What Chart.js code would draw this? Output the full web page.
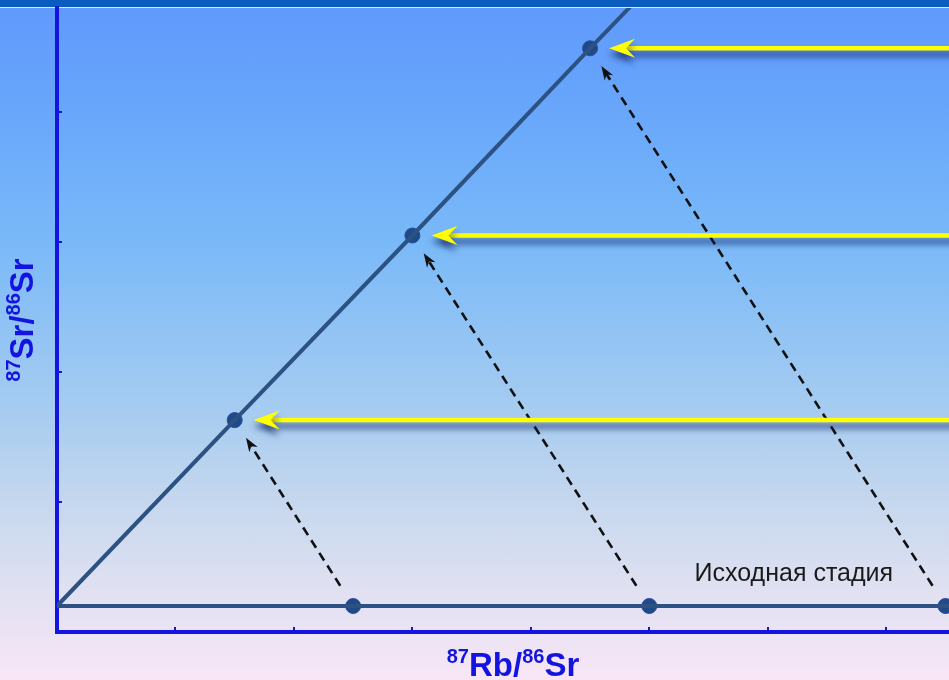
<!DOCTYPE html>
<html lang="ru">
<head>
<meta charset="UTF-8" />
<title>Rb-Sr изохрона</title>
<style>
  html, body {
    margin: 0;
    padding: 0;
  }
  body {
    width: 949px;
    height: 680px;
    overflow: hidden;
    background: linear-gradient(to bottom,
      #0b5cbf 0px, #0b5cbf 7px,
      #dce8fb 7px, #dce8fb 8px,
      #609afc 8px, #67a5fb 100px, #79b9f8 240px,
      #a9cdf0 420px, #c5d7ee 500px, #dde0f1 580px, #f8e6f6 680px);
  }
  #chart-container {
    position: relative;
    width: 949px;
    height: 680px;
  }
  canvas {
    display: block;
  }
</style>
<script src="https://cdn.jsdelivr.net/npm/chart.js"></script>
</head>
<body>
<div id="chart-container">
  <canvas id="isochronChart" width="949" height="680"></canvas>
</div>

<script>
  // values (87Rb/86Sr on x, 87Sr/86Sr on y)
  const initialRb = [2.5, 5.0, 7.5];
  const initialSr = [0.2, 0.2, 0.2];
  const agedRb = [1.5, 3.0, 4.5];
  const agedSr = [1.63, 3.05, 4.49];
  const isochronRb = [0, 1.5, 3.0, 4.5, 4.85];
  const isochronSr = [0.2, 1.63, 3.05, 4.49, 4.82];
  const baselineRb = [0, 7.53];
  const baselineSr = [0.2, 0.2];
  const xTicks = [1, 2, 3, 4, 5, 6, 7];
  const yTicks = [1, 2, 3, 4];

  const stageLabel = "Исходная стадия";
  const xTitle = [["87", true], ["Rb/", false], ["86", true], ["Sr", false]];
  const yTitle = [["87", true], ["Sr/", false], ["86", true], ["Sr", false]];

  const axisBlue = "#1414e0";
  const lineBlue = "#2b5282";
  const dotBlue = "#1f4a86";

  function toPoints(xs, ys) {
    return xs.map((v, i) => ({ x: v, y: ys[i] }));
  }

  function drawSupText(ctx, parts, cx, cy, size, supSize) {
    const big = "bold " + size + "px 'Liberation Sans', Arial, sans-serif";
    const small = "bold " + supSize + "px 'Liberation Sans', Arial, sans-serif";
    let total = 0;
    parts.forEach(([t, sup]) => {
      ctx.font = sup ? small : big;
      total += ctx.measureText(t).width;
    });
    let x = cx - total / 2;
    ctx.textBaseline = "alphabetic";
    ctx.textAlign = "left";
    parts.forEach(([t, sup]) => {
      ctx.font = sup ? small : big;
      ctx.fillText(t, x, sup ? cy - size * 0.4 : cy);
      x += ctx.measureText(t).width;
    });
  }

  const overlay = {
    id: "overlay",
    afterDatasetsDraw(chart) {
      const { ctx, chartArea, scales } = chart;
      const xs = scales.x, ys = scales.y;
      ctx.save();

      // small inward tick marks
      ctx.strokeStyle = axisBlue;
      ctx.lineWidth = 2;
      xTicks.forEach((v) => {
        const px = Math.round(xs.getPixelForValue(v));
        ctx.beginPath();
        ctx.moveTo(px, chartArea.bottom);
        ctx.lineTo(px, chartArea.bottom - 5);
        ctx.stroke();
      });
      yTicks.forEach((v) => {
        const py = Math.round(ys.getPixelForValue(v));
        ctx.beginPath();
        ctx.moveTo(chartArea.left, py);
        ctx.lineTo(chartArea.left + 5, py);
        ctx.stroke();
      });

      // dashed arrows: initial sample -> sample on the isochron
      ctx.strokeStyle = "#111";
      ctx.fillStyle = "#111";
      initialRb.forEach((rb, i) => {
        const x0 = xs.getPixelForValue(rb), y0 = ys.getPixelForValue(initialSr[i]);
        const x1 = xs.getPixelForValue(agedRb[i]), y1 = ys.getPixelForValue(agedSr[i]);
        const len = Math.hypot(x1 - x0, y1 - y0);
        const ux = (x1 - x0) / len, uy = (y1 - y0) / len;
        const sx = x0 + ux * 24, sy = y0 + uy * 24;
        const tx = x1 - ux * 21, ty = y1 - uy * 21;
        ctx.lineWidth = 2.6;
        ctx.setLineDash([9, 6]);
        ctx.beginPath();
        ctx.moveTo(sx, sy);
        ctx.lineTo(tx - ux * 9, ty - uy * 9);
        ctx.stroke();
        ctx.setLineDash([]);
        const nx = -uy, ny = ux;
        ctx.beginPath();
        ctx.moveTo(tx, ty);
        ctx.lineTo(tx - ux * 14 + nx * 5, ty - uy * 14 + ny * 5);
        ctx.lineTo(tx - ux * 10, ty - uy * 10);
        ctx.lineTo(tx - ux * 14 - nx * 5, ty - uy * 14 - ny * 5);
        ctx.closePath();
        ctx.fill();
      });

      // yellow arrows coming in from the right
      ctx.fillStyle = "#ffff00";
      ctx.strokeStyle = "#ffff00";
      ctx.shadowColor = "rgba(15, 35, 100, 0.75)";
      ctx.shadowBlur = 6;
      ctx.shadowOffsetY = 6;
      agedRb.forEach((rb, i) => {
        const tipX = xs.getPixelForValue(rb) + 19;
        const tipY = ys.getPixelForValue(agedSr[i]);
        ctx.lineWidth = 4.5;
        ctx.beginPath();
        ctx.moveTo(tipX + 16, tipY);
        ctx.lineTo(chart.width + 10, tipY);
        ctx.stroke();
        ctx.beginPath();
        ctx.moveTo(tipX, tipY);
        ctx.lineTo(tipX + 26, tipY - 9.5);
        ctx.lineTo(tipX + 17, tipY);
        ctx.lineTo(tipX + 26, tipY + 9.5);
        ctx.closePath();
        ctx.fill();
      });
      ctx.shadowColor = "transparent";

      // annotation
      ctx.fillStyle = "#1a1a1a";
      ctx.font = "25px 'Liberation Sans', Arial, sans-serif";
      ctx.textAlign = "center";
      ctx.textBaseline = "alphabetic";
      ctx.fillText(stageLabel, xs.getPixelForValue(6.22), ys.getPixelForValue(0.39));

      // axis titles
      ctx.fillStyle = axisBlue;
      drawSupText(ctx, xTitle, (chartArea.left + chartArea.right) / 2 + 10, 676, 33, 20);
      ctx.translate(33, 320);
      ctx.rotate(-Math.PI / 2);
      drawSupText(ctx, yTitle, 0, 0, 33, 20);

      ctx.restore();
    },
  };

  const ctx = document.getElementById("isochronChart").getContext("2d");
  new Chart(ctx, {
    type: "scatter",
    data: {
      datasets: [
        {
          type: "line",
          data: toPoints(isochronRb, isochronSr),
          borderColor: lineBlue,
          borderWidth: 4,
          pointRadius: 0,
          fill: false,
          tension: 0,
        },
        {
          type: "line",
          data: toPoints(baselineRb, baselineSr),
          borderColor: lineBlue,
          borderWidth: 4,
          pointRadius: 0,
          fill: false,
        },
        {
          data: toPoints(agedRb, agedSr),
          backgroundColor: dotBlue,
          borderColor: "#2a48a8",
          borderWidth: 1,
          pointRadius: 7.5,
        },
        {
          data: toPoints(initialRb, initialSr),
          backgroundColor: dotBlue,
          borderColor: "#2a48a8",
          borderWidth: 1,
          pointRadius: 7.5,
        },
      ],
    },
    options: {
      responsive: false,
      animation: false,
      layout: {
        autoPadding: false,
        padding: { left: 57, top: 8, right: 0, bottom: 48 },
      },
      scales: {
        x: {
          type: "linear",
          min: 0,
          max: 7.53,
          ticks: { display: false, stepSize: 1 },
          grid: { display: false, drawTicks: false },
          border: { display: true, color: axisBlue, width: 4 },
        },
        y: {
          type: "linear",
          min: 0,
          max: 4.8,
          ticks: { display: false, stepSize: 1 },
          grid: { display: false, drawTicks: false },
          border: { display: true, color: axisBlue, width: 4 },
        },
      },
      plugins: {
        legend: { display: false },
        tooltip: { enabled: false },
      },
    },
    plugins: [overlay],
  });
</script>
</body>
</html>
